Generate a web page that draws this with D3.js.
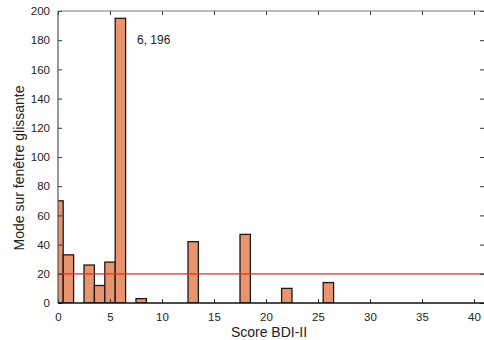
<!DOCTYPE html>
<html>
<head>
<meta charset="utf-8">
<script src="https://cdn.jsdelivr.net/npm/d3@7"></script>
<style>
  body { margin: 0; background: #fff; }
  svg { font-family: "Liberation Sans", Arial, sans-serif; }
</style>
</head>
<body>
<div id="chart"></div>
<script>
// Score BDI-II -> mode sur fenêtre glissante
const scores = [0, 1, 3, 4, 5, 6, 8, 13, 18, 22, 26];
const modes = [70, 33, 26, 12, 28, 195, 3, 42, 47, 10, 14];
const xTicks = [0, 5, 10, 15, 20, 25, 30, 35, 40];
const yTicks = [0, 20, 40, 60, 80, 100, 120, 140, 160, 180, 200];
const threshold = 20;
const peakLabel = "6, 196";

const width = 484, height = 340;
const plotLeft = 58, plotTop = 11, plotBottom = 303, plotRight = 485;

const svg = d3.select("#chart").append("svg")
    .attr("width", width)
    .attr("height", height);

const x = d3.scaleLinear().domain([0, 40]).range([plotLeft, 474]);
const y = d3.scaleLinear().domain([0, 200]).range([plotBottom, plotTop]);

svg.append("clipPath").attr("id", "plot")
  .append("rect")
    .attr("x", plotLeft).attr("y", plotTop - 2)
    .attr("width", plotRight - plotLeft).attr("height", plotBottom - plotTop + 2);

const plot = svg.append("g").attr("clip-path", "url(#plot)");

plot.selectAll("rect.bar")
  .data(scores)
  .join("rect")
    .attr("class", "bar")
    .attr("x", (d) => x(d - 0.5))
    .attr("width", x(1) - x(0))
    .attr("y", (d, i) => y(modes[i]))
    .attr("height", (d, i) => y(0) - y(modes[i]))
    .attr("fill", "#e8956f")
    .attr("stroke", "#1a1a1a")
    .attr("stroke-width", 1.3);

plot.append("line")
    .attr("x1", plotLeft).attr("x2", plotRight)
    .attr("y1", y(threshold)).attr("y2", y(threshold))
    .attr("stroke", "#f22")
    .attr("stroke-width", 1.2);

// axes with inward ticks
const axisStyle = (g) => {
  g.selectAll("text").attr("font-size", 11.5).attr("fill", "#222");
  g.selectAll(".tick line").attr("stroke", "#333");
};

svg.append("g")
    .attr("transform", `translate(0,${plotBottom})`)
    .call(d3.axisBottom(x).tickValues(xTicks).tickSize(-4).tickPadding(10))
    .call((g) => g.select(".domain").remove())
    .call(axisStyle);

svg.append("g")
    .attr("transform", `translate(${plotLeft},0)`)
    .call(d3.axisLeft(y).tickValues(yTicks).tickSize(-4).tickPadding(8))
    .call((g) => g.select(".domain").remove())
    .call(axisStyle);

svg.append("g")
    .attr("transform", `translate(0,${plotTop})`)
    .call(d3.axisTop(x).tickValues(xTicks).tickSize(-4).tickFormat(""))
    .call((g) => g.select(".domain").remove())
    .call(axisStyle);

svg.append("g")
    .attr("transform", `translate(${plotRight - 1},0)`)
    .call(d3.axisRight(y).tickValues(yTicks).tickSize(-4).tickFormat(""))
    .call((g) => g.select(".domain").remove())
    .call(axisStyle);

// frame
svg.append("line")
    .attr("x1", plotLeft).attr("x2", plotRight)
    .attr("y1", plotTop).attr("y2", plotTop)
    .attr("stroke", "#777").attr("stroke-width", 1.2);
svg.append("line")
    .attr("x1", plotLeft).attr("x2", plotLeft)
    .attr("y1", plotTop).attr("y2", plotBottom)
    .attr("stroke", "#555").attr("stroke-width", 1.2);
svg.append("line")
    .attr("x1", plotLeft).attr("x2", plotRight)
    .attr("y1", plotBottom).attr("y2", plotBottom)
    .attr("stroke", "#111").attr("stroke-width", 1.5);

svg.append("text")
    .attr("x", x(7.6)).attr("y", y(180) + 4)
    .attr("font-size", 12)
    .attr("fill", "#222")
    .text(peakLabel);

svg.append("text")
    .attr("x", 269).attr("y", 337)
    .attr("text-anchor", "middle")
    .attr("font-size", 14)
    .attr("fill", "#222")
    .text("Score BDI-II");

svg.append("text")
    .attr("transform", "translate(24,168) rotate(-90)")
    .attr("text-anchor", "middle")
    .attr("font-size", 14)
    .attr("fill", "#222")
    .text("Mode sur fenêtre glissante");
</script>
</body>
</html>
